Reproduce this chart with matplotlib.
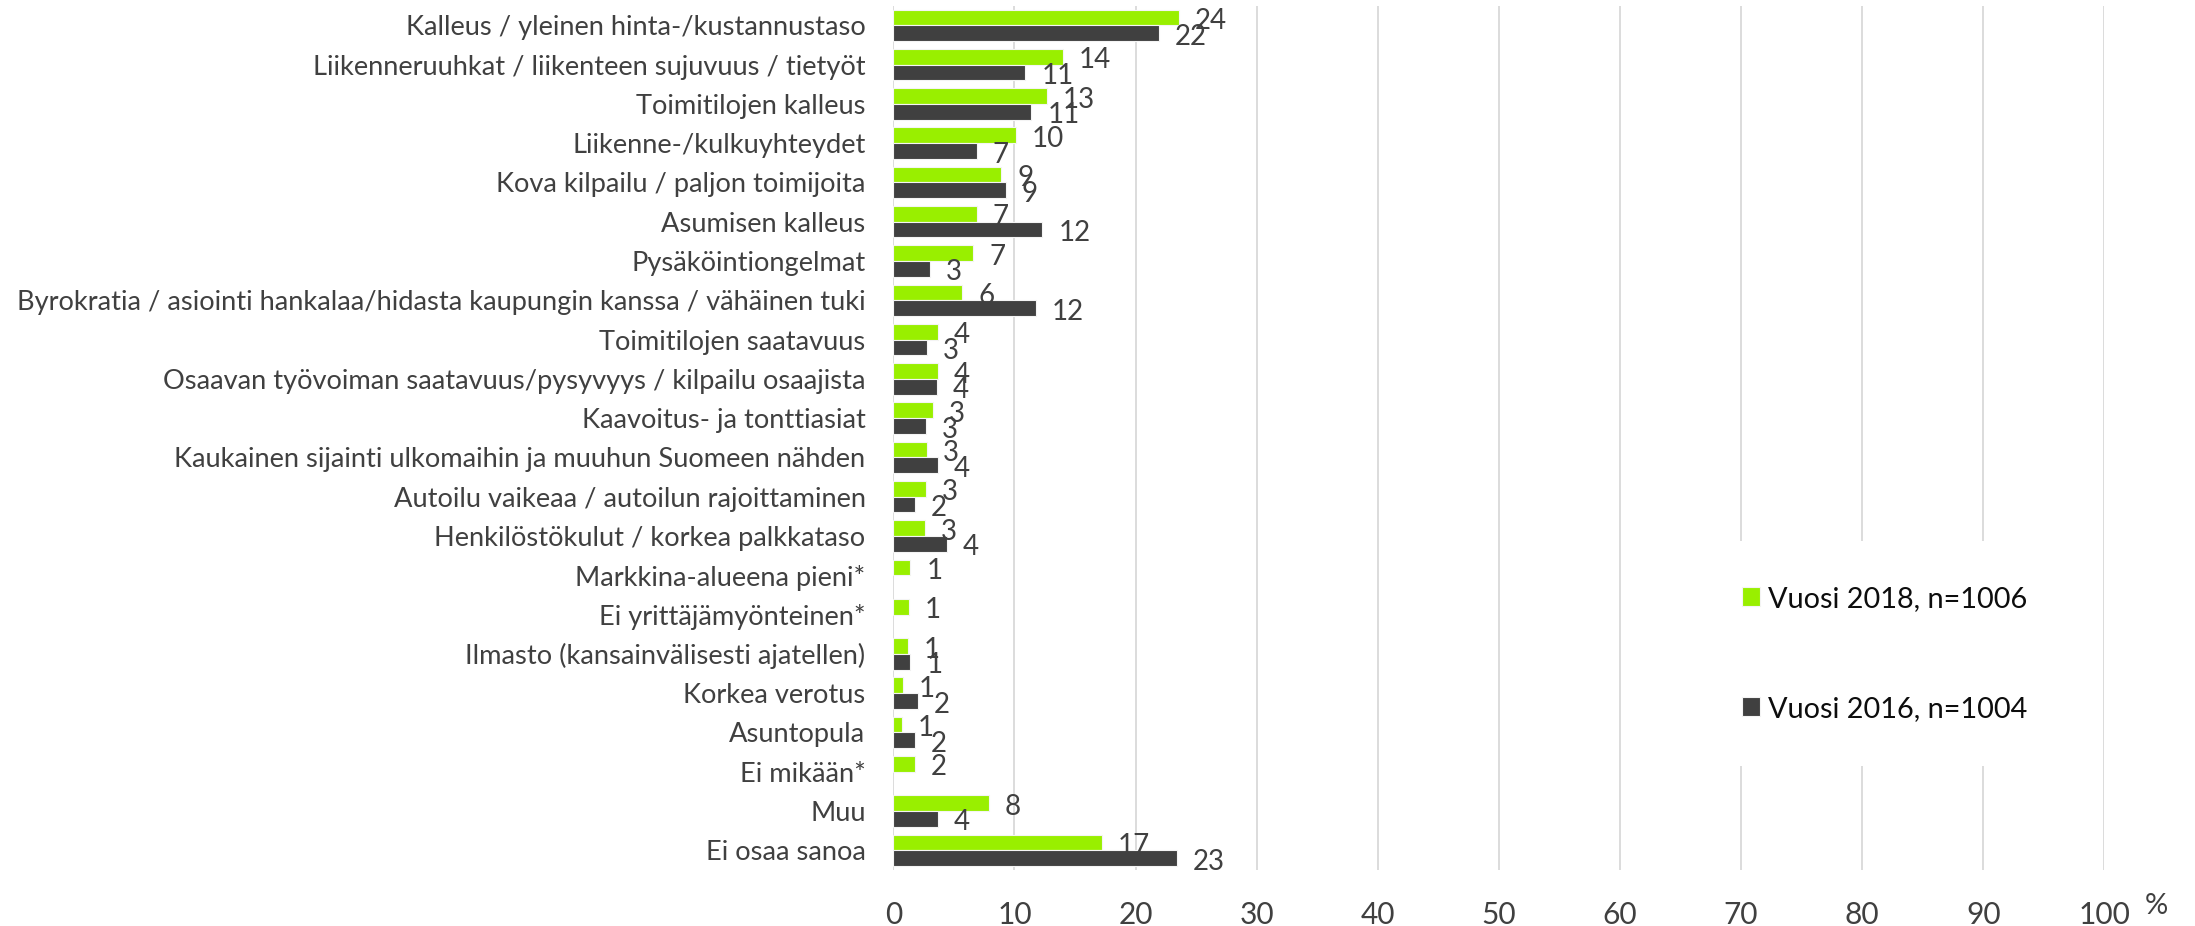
import numpy as np
import matplotlib
matplotlib.use("Agg")
import matplotlib.pyplot as plt

plt.rcParams['font.family'] = ['Lato', 'DejaVu Sans']

categories = [
    "Kalleus / yleinen hinta-/kustannustaso",
    "Liikenneruuhkat / liikenteen sujuvuus / tietyöt",
    "Toimitilojen kalleus",
    "Liikenne-/kulkuyhteydet",
    "Kova kilpailu / paljon toimijoita",
    "Asumisen kalleus",
    "Pysäköintiongelmat",
    "Byrokratia / asiointi hankalaa/hidasta kaupungin kanssa / vähäinen tuki",
    "Toimitilojen saatavuus",
    "Osaavan työvoiman saatavuus/pysyvyys / kilpailu osaajista",
    "Kaavoitus- ja tonttiasiat",
    "Kaukainen sijainti ulkomaihin ja muuhun Suomeen nähden",
    "Autoilu vaikeaa / autoilun rajoittaminen",
    "Henkilöstökulut / korkea palkkataso",
    "Markkina-alueena pieni*",
    "Ei yrittäjämyönteinen*",
    "Ilmasto (kansainvälisesti ajatellen)",
    "Korkea verotus",
    "Asuntopula",
    "Ei mikään*",
    "Muu",
    "Ei osaa sanoa",
]

# Share of respondents (%), survey 2018
values_2018 = [23.6, 14.0, 12.7, 10.1, 8.9, 6.9, 6.6, 5.7, 3.7, 3.7, 3.3,
               2.8, 2.7, 2.6, 1.4, 1.3, 1.2, 0.8, 0.7, 1.8, 7.9, 17.2]
# Share of respondents (%), survey 2016 (nan = not asked)
values_2016 = [21.9, 10.9, 11.4, 6.9, 9.3, 12.3, 3.0, 11.8, 2.8, 3.6, 2.7,
               3.7, 1.8, 4.4, np.nan, np.nan, 1.4, 2.0, 1.8, np.nan, 3.7, 23.4]

series_labels = ["Vuosi 2018, n=1006", "Vuosi 2016, n=1004"]
x_ticks = list(range(0, 101, 10))

GREEN = "#99ef00"
DARK = "#404040"
TEXT = "#404040"

W, H = 2195, 926
fig = plt.figure(figsize=(W / 100, H / 100), dpi=100)
left_px, right_px, top_px, bottom_px = 893.3, 2104.3, 5.7, 870.0
ax = fig.add_axes([left_px / W, 1 - bottom_px / H,
                   (right_px - left_px) / W, (bottom_px - top_px) / H])

y = np.arange(len(categories))
bh = 0.4
v18 = np.array(values_2018, dtype=float)
v16 = np.array(values_2016, dtype=float)

bars18 = ax.barh(y - bh / 2, v18, height=bh, color=GREEN,
                 edgecolor="#f4f4f4", linewidth=0.8, zorder=3)
mask = ~np.isnan(v16)
bars16 = ax.barh(y[mask] + bh / 2, v16[mask], height=bh, color=DARK,
                 edgecolor="#f4f4f4", linewidth=0.8, zorder=3)

for yy, v in zip(y - bh / 2, v18):
    ax.annotate(f"{v:.0f}", xy=(v, yy), xytext=(11.5, -2.5),
                textcoords="offset points", ha="left", va="center",
                fontsize=20, color=TEXT, zorder=4)
for yy, v in zip(y[mask] + bh / 2, v16[mask]):
    ax.annotate(f"{v:.0f}", xy=(v, yy), xytext=(11.5, -2.5),
                textcoords="offset points", ha="left", va="center",
                fontsize=20, color=TEXT, zorder=4)

ax.set_xlim(0, 100)
ax.set_ylim(len(categories) - 0.5, -0.5)
ax.set_xticks(x_ticks)
ax.set_xticklabels([str(t) for t in x_ticks])
ax.set_yticks(y)
ax.set_yticklabels(categories)

ax.tick_params(axis="y", length=0, pad=20, labelsize=19.6, labelcolor=TEXT)
ax.tick_params(axis="x", length=0, pad=22, labelsize=21.5, labelcolor=TEXT)

for s in ax.spines.values():
    s.set_visible(False)
ax.grid(axis="x", color="#d9d9d9", linewidth=1.3, zorder=0)
ax.set_axisbelow(True)

fig.text(2145 / W, 1 - 906 / H, "%", ha="left", va="center",
         fontsize=21, color=TEXT)

leg = ax.legend([bars18, bars16], series_labels,
                loc="upper left",
                bbox_to_anchor=(1697 / W, 1 - 541 / H),
                bbox_transform=fig.transFigure,
                borderaxespad=0, frameon=True, facecolor="white",
                edgecolor="none", framealpha=1, fontsize=20.8,
                handlelength=0.62, handleheight=0.62, handletextpad=0.3,
                labelspacing=2.9, borderpad=1.55)
for t in leg.get_texts():
    t.set_color("#0d0d0d")
leg.set_zorder(5)

fig.savefig("out.png", dpi=100, facecolor="white")
